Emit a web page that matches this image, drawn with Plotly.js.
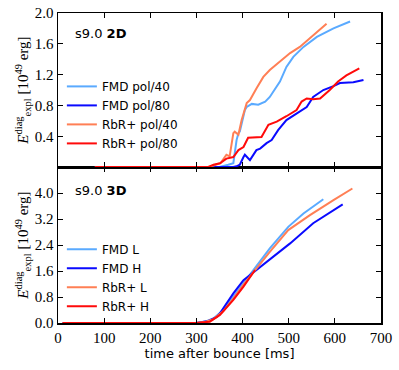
<!DOCTYPE html>
<html>
<head>
<meta charset="utf-8">
<script src="https://cdn.plot.ly/plotly-3.0.1.min.js"></script>
<style>
  body { margin: 0; background: #fff; }
  #chart { width: 399px; height: 370px; }
</style>
</head>
<body>
<div id="chart"></div>
<script>
// 2D runs (top panel), time after bounce [ms] vs E_expl [1e49 erg]
const fmd40T = [80, 350, 369, 380, 387, 391, 394, 405, 409, 420, 434, 449, 459, 481, 495, 510, 532, 561, 597, 633];
const fmd40E = [0, 0, 0.03, 0.05, 0.35, 0.44, 0.46, 0.74, 0.78, 0.82, 0.81, 0.85, 0.91, 1.11, 1.30, 1.43, 1.56, 1.69, 1.80, 1.89];

const fmd80T = [80, 380, 387, 394, 402, 405, 416, 423, 430, 438, 452, 463, 477, 495, 517, 539, 553, 575, 597, 611, 640, 662];
const fmd80E = [0, 0, 0.01, 0.03, 0.13, 0.16, 0.09, 0.16, 0.22, 0.24, 0.31, 0.35, 0.48, 0.61, 0.70, 0.78, 0.91, 1.00, 1.05, 1.09, 1.10, 1.13];

const rbr40T = [80, 325, 337, 352, 365, 372, 380, 383, 391, 398, 409, 416, 430, 445, 459, 481, 503, 524, 553, 582];
const rbr40E = [0, 0, 0.02, 0.05, 0.16, 0.14, 0.44, 0.46, 0.42, 0.61, 0.83, 0.87, 1.02, 1.17, 1.26, 1.37, 1.48, 1.56, 1.71, 1.86];

const rbr80T = [80, 325, 337, 351, 365, 380, 391, 402, 412, 427, 441, 456, 474, 495, 517, 528, 539, 553, 568, 589, 607, 625, 653];
const rbr80E = [0, 0, 0.03, 0.05, 0.11, 0.13, 0.22, 0.26, 0.38, 0.39, 0.39, 0.55, 0.59, 0.66, 0.74, 0.85, 0.89, 0.88, 0.89, 1.00, 1.11, 1.19, 1.28];

// 3D runs (bottom panel)
const fmdLT = [10, 300, 320, 337, 358, 380, 402, 430, 459, 499, 532, 575];
const fmdLE = [0, 0, 0.05, 0.14, 0.40, 0.81, 1.22, 1.73, 2.30, 2.96, 3.37, 3.81];

const fmdHT = [10, 300, 325, 344, 351, 380, 402, 430, 467, 503, 553, 617];
const fmdHE = [0, 0, 0.06, 0.19, 0.30, 0.91, 1.32, 1.63, 2.04, 2.45, 3.07, 3.65];

const rbrLT = [10, 300, 320, 337, 358, 380, 402, 430, 459, 499, 546, 597, 638];
const rbrLE = [0, 0, 0.04, 0.12, 0.36, 0.75, 1.18, 1.68, 2.19, 2.86, 3.32, 3.78, 4.14];

const rbrHT = [10, 300, 329, 351, 380, 402, 427];
const rbrHE = [0, 0, 0.04, 0.25, 0.71, 1.12, 1.63];

const topTicks = [0.4, 0.8, 1.2, 1.6, 2.0];
const botTicks = [0, 0.8, 1.6, 2.4, 3.2, 4.0];
const xTicks = [0, 100, 200, 300, 400, 500, 600, 700];

const lightBlue = "#5aaaff";
const blue = "#0a0aff";
const coral = "#ff7f55";
const red = "#ff0a0a";

function line(x, y, name, color, xa, ya, leg) {
  return {
    x: x, y: y, name: name, type: "scatter", mode: "lines",
    line: { color: color, width: 2 },
    xaxis: xa, yaxis: ya, legend: leg
  };
}

const traces = [
  line(fmd40T, fmd40E, "FMD pol/40", lightBlue, "x2", "y", "legend"),
  line(fmd80T, fmd80E, "FMD pol/80", blue, "x2", "y", "legend"),
  line(rbr40T, rbr40E, "RbR+ pol/40", coral, "x2", "y", "legend"),
  line(rbr80T, rbr80E, "RbR+ pol/80", red, "x2", "y", "legend"),
  line(fmdLT, fmdLE, "FMD L", lightBlue, "x", "y2", "legend2"),
  line(fmdHT, fmdHE, "FMD H", blue, "x", "y2", "legend2"),
  line(rbrLT, rbrLE, "RbR+ L", coral, "x", "y2", "legend2"),
  line(rbrHT, rbrHE, "RbR+ H", red, "x", "y2", "legend2")
];

const serif = { family: "Liberation Serif", size: 15, color: "#000" };
const sans = { family: "DejaVu Sans", size: 12, color: "#000" };
const yTitle = "<i>E</i><sup>diag</sup><sub>expl</sub> [10<sup>49</sup> erg]";

const axisBase = {
  showgrid: false, zeroline: false, showline: true, linecolor: "#000", linewidth: 1.5,
  ticks: "inside", ticklen: 5, tickcolor: "#000", mirror: "ticks", tickfont: serif
};

const layout = {
  width: 399, height: 370,
  margin: { l: 58, r: 18, t: 13, b: 47 },
  paper_bgcolor: "#fff", plot_bgcolor: "#fff",
  showlegend: true,
  font: { family: "DejaVu Sans", color: "#000" },
  xaxis: Object.assign({}, axisBase, {
    range: [0, 700], tickvals: xTicks, anchor: "y2",
    title: { text: "time after bounce [ms]", font: { family: "DejaVu Sans", size: 13, color: "#000" }, standoff: 4 }
  }),
  xaxis2: Object.assign({}, axisBase, {
    range: [0, 700], tickvals: xTicks, anchor: "y", showticklabels: false, matches: "x"
  }),
  yaxis: Object.assign({}, axisBase, {
    domain: [0.503, 1], range: [0, 2.0], tickvals: topTicks, tickformat: ".1f", anchor: "x2",
    title: { text: yTitle, font: serif, standoff: 2 }
  }),
  yaxis2: Object.assign({}, axisBase, {
    domain: [0, 0.503], range: [0, 4.8], tickvals: botTicks, tickformat: ".1f", anchor: "x",
    title: { text: yTitle, font: serif, standoff: 2 }
  }),
  legend: {
    x: 0.012, y: 0.81, xanchor: "left", yanchor: "top",
    bgcolor: "rgba(0,0,0,0)", font: sans, tracegroupgap: 0
  },
  legend2: {
    x: 0.012, y: 0.285, xanchor: "left", yanchor: "top",
    bgcolor: "rgba(0,0,0,0)", font: sans, tracegroupgap: 0
  },
  annotations: [
    { text: "s9.0 <b>2D</b>", xref: "paper", yref: "paper", x: 0.045, y: 0.935,
      xanchor: "left", yanchor: "middle", showarrow: false, font: { family: "DejaVu Sans", size: 13, color: "#000" } },
    { text: "s9.0 <b>3D</b>", xref: "paper", yref: "paper", x: 0.045, y: 0.429,
      xanchor: "left", yanchor: "middle", showarrow: false, font: { family: "DejaVu Sans", size: 13, color: "#000" } }
  ]
};

Plotly.newPlot("chart", traces, layout, { displayModeBar: false, staticPlot: true });
</script>
</body>
</html>
